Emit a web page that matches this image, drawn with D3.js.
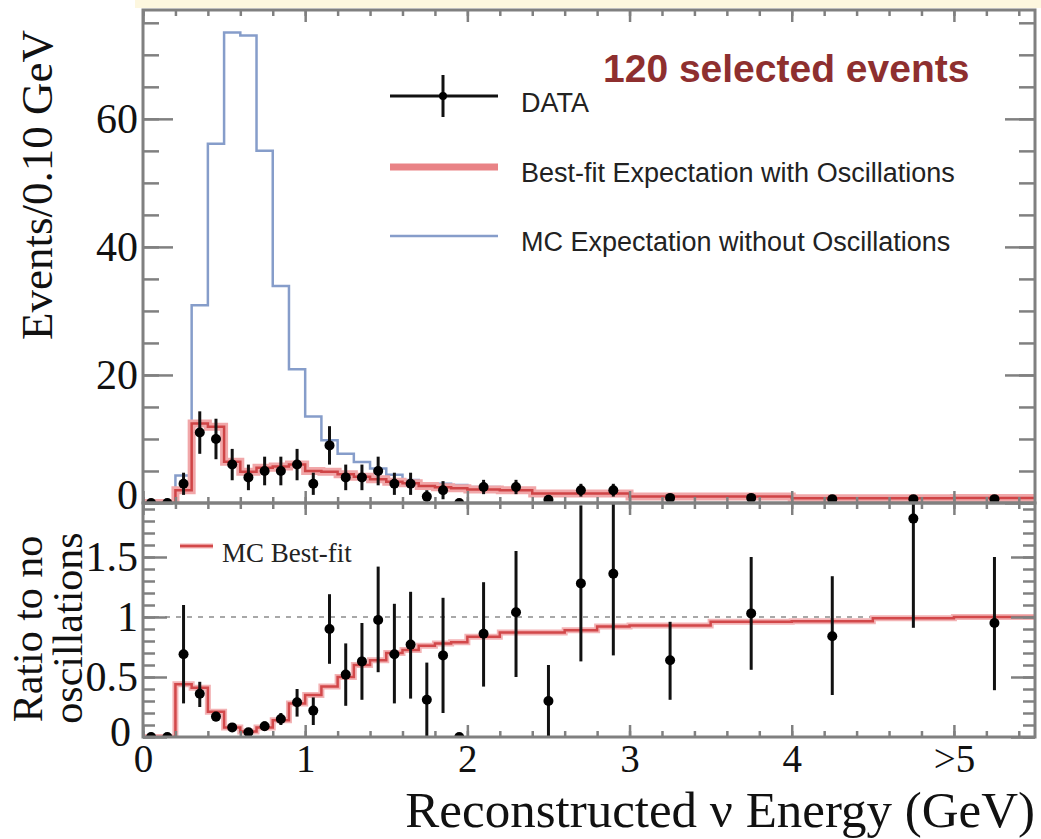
<!DOCTYPE html>
<html>
<head>
<meta charset="utf-8">
<script src="https://cdn.jsdelivr.net/npm/d3@7"></script>
<style>
  html, body { margin: 0; padding: 0; background: #ffffff; }
  svg { display: block; }
</style>
</head>
<body>
<svg id="chart" width="1041" height="839"></svg>
<script>
// ---- Data ----------------------------------------------------------------
// Bin edges in reconstructed neutrino energy (GeV); last bin is the >5 GeV overflow
const binEdges = [0.0, 0.1, 0.2, 0.3, 0.4, 0.5, 0.6, 0.7, 0.8, 0.9, 1.0,
                  1.1, 1.2, 1.3, 1.4, 1.5, 1.6, 1.7, 1.8, 1.9, 2.0,
                  2.2, 2.4, 2.6, 2.8, 3.0, 3.5, 4.0, 4.5, 5.0, 5.5];

// Observed events in each bin (120 in total)
const dataCounts = [0, 0, 3, 11, 10, 6, 4, 5, 5, 6,
                    3, 9, 4, 4, 5, 3, 3, 1, 2, 0,
                    5, 5, 1, 4, 4,
                    4, 4, 3, 3, 3];

// Best-fit expectation with oscillations (events / 0.10 GeV)
const bestFit = [0, 0, 2.0, 12.4, 11.9, 6.45, 4.9, 5.5, 5.7, 6.0,
                 5.0, 4.9, 4.5, 4.1, 3.7, 3.3, 3.1, 2.65, 2.45, 2.3,
                 2.1, 2.0, 1.5, 1.5, 1.5,
                 1.0, 1.0, 0.75, 0.75, 0.8];

// MC expectation without oscillations (events / 0.10 GeV)
const mcNoOsc = [0, 0, 4.3, 30.9, 56.1, 73.5, 73.0, 55.0, 33.9, 20.9,
                 13.5, 9.8, 7.7, 6.4, 5.4, 4.4, 3.6, 3.1, 3.0, 2.8,
                 2.5, 2.3, 1.7, 1.65, 1.6,
                 1.1, 1.05, 0.8, 0.78, 0.8];

// Ratio of best-fit to no-oscillation expectation
const ratioBestFit = [0, 0, 0.44, 0.41, 0.21, 0.08, 0.045, 0.08, 0.14, 0.28,
                      0.35, 0.42, 0.50, 0.60, 0.64, 0.70, 0.725, 0.76, 0.78, 0.79,
                      0.835, 0.87, 0.87, 0.89, 0.92,
                      0.93, 0.96, 0.965, 0.99, 1.0];

// Data / no-oscillation ratio with lower and upper error-bar ends
const ratioData = [0, 0, 0.69, 0.36, 0.17, 0.08, 0.04, 0.09, 0.15, 0.29,
                   0.22, 0.90, 0.52, 0.63, 0.975, 0.69, 0.77, 0.31, 0.68, 0,
                   0.86, 1.04, 0.30, 1.28, 1.36,
                   0.64, 1.03, 0.84, 1.82, 0.95];
const ratioLow  = [0, 0, 0.28, 0.25, 0.13, 0.05, 0.02, 0.05, 0.10, 0.17,
                   0.10, 0.61, 0.26, 0.31, 0.54, 0.28, 0.32, 0.0, 0.20, 0,
                   0.42, 0.50, 0.0, 0.63, 0.68,
                   0.31, 0.56, 0.35, 0.91, 0.39];
const ratioHigh = [0, 0, 1.10, 0.46, 0.21, 0.11, 0.06, 0.13, 0.20, 0.40,
                   0.33, 1.19, 0.78, 0.95, 1.42, 1.11, 1.21, 0.62, 1.16, 0,
                   1.29, 1.55, 0.60, 1.93, 2.05,
                   0.96, 1.50, 1.34, 2.60, 1.50];

const xTickValues = [0, 1, 2, 3, 4, 5];
const xTickLabels = ["0", "1", "2", "3", "4", ">5"];
const yTopTicks = [0, 20, 40, 60];
const yBotTicks = [0, 0.5, 1, 1.5];

// ---- Layout --------------------------------------------------------------
const L = 143, R = 1035;
const topY0 = 10, topY1 = 503, botY0 = 503, botY1 = 737;

const svg = d3.select("#chart");
const serif = "'Liberation Serif', 'Times New Roman', serif";
const sans = "'Liberation Sans', Arial, Helvetica, sans-serif";
const frameColor = "#808080";

const x = d3.scaleLinear().domain([0, 5.5]).range([L, R]);
const yTop = d3.scaleLinear().domain([0, 77]).range([topY1, topY0]);
const yBot = d3.scaleLinear().domain([0, 1.95]).range([botY1, botY0]);

// pale strip along the top edge
svg.append("rect").attr("x", 135).attr("y", 0).attr("width", 906).attr("height", 8)
  .attr("fill", "#fdf7df");

const defs = svg.append("defs");
defs.append("clipPath").attr("id", "clipTop").append("rect")
  .attr("x", L).attr("y", topY0).attr("width", R - L).attr("height", topY1 - topY0);
defs.append("clipPath").attr("id", "clipBot").append("rect")
  .attr("x", L).attr("y", botY0).attr("width", R - L).attr("height", botY1 - botY0);

const bins = binEdges.slice(0, -1).map((lo, i) => ({
  lo, hi: binEdges[i + 1], c: (lo + binEdges[i + 1]) / 2, w: binEdges[i + 1] - lo
}));

// step outline through bin edges
function stepPoints(values) {
  const pts = [];
  bins.forEach((b, i) => { pts.push([b.lo, values[i]]); pts.push([b.hi, values[i]]); });
  return pts;
}

// ---- Top panel -----------------------------------------------------------
const gTop = svg.append("g").attr("clip-path", "url(#clipTop)");
const lineTop = d3.line().x(d => x(d[0])).y(d => yTop(d[1]));

gTop.append("path").attr("d", lineTop(stepPoints(mcNoOsc)))
  .attr("fill", "none").attr("stroke", "#869dca").attr("stroke-width", 2.5);
gTop.append("path").attr("d", lineTop(stepPoints(bestFit)))
  .attr("fill", "none").attr("stroke", "#f1a7a9").attr("stroke-width", 8);
gTop.append("path").attr("d", lineTop(stepPoints(bestFit)))
  .attr("fill", "none").attr("stroke", "#cf4446").attr("stroke-width", 2.5);

const perTenth = dataCounts.map((n, i) => n / (bins[i].w / 0.1));
const errTenth = dataCounts.map((n, i) => Math.sqrt(n) / (bins[i].w / 0.1));

bins.forEach((b, i) => {
  if (dataCounts[i] > 0) {
    gTop.append("line")
      .attr("x1", x(b.c)).attr("x2", x(b.c))
      .attr("y1", yTop(perTenth[i] - errTenth[i])).attr("y2", yTop(perTenth[i] + errTenth[i]))
      .attr("stroke", "#111").attr("stroke-width", 3);
  }
  gTop.append("circle").attr("cx", x(b.c)).attr("cy", yTop(perTenth[i])).attr("r", 5)
    .attr("fill", "#000");
});

// ---- Bottom panel --------------------------------------------------------
const gBot = svg.append("g").attr("clip-path", "url(#clipBot)");
const lineBot = d3.line().x(d => x(d[0])).y(d => yBot(d[1]));

gBot.append("line").attr("x1", x(0)).attr("x2", x(5.5))
  .attr("y1", yBot(1)).attr("y2", yBot(1))
  .attr("stroke", "#a8a8a8").attr("stroke-width", 2).attr("stroke-dasharray", "5,6");

gBot.append("path").attr("d", lineBot(stepPoints(ratioBestFit)))
  .attr("fill", "none").attr("stroke", "#f3b3b5").attr("stroke-width", 6);
gBot.append("path").attr("d", lineBot(stepPoints(ratioBestFit)))
  .attr("fill", "none").attr("stroke", "#d2484a").attr("stroke-width", 2.5);

bins.forEach((b, i) => {
  if (ratioHigh[i] > ratioLow[i]) {
    gBot.append("line")
      .attr("x1", x(b.c)).attr("x2", x(b.c))
      .attr("y1", yBot(ratioLow[i])).attr("y2", yBot(ratioHigh[i]))
      .attr("stroke", "#111").attr("stroke-width", 3);
  }
  gBot.append("circle").attr("cx", x(b.c)).attr("cy", yBot(ratioData[i])).attr("r", 5)
    .attr("fill", "#000");
});

// ---- Frames and axes -----------------------------------------------------
function styleAxis(g) {
  g.select(".domain").remove();
  g.selectAll(".tick line").attr("stroke", frameColor).attr("stroke-width", 2.5);
  g.selectAll(".tick text").attr("fill", "#111").attr("font-family", serif);
  return g;
}

const xMinor = d3.range(0, 55.01, 2).map(v => v / 10);
const yTopMinor = d3.range(0, 77, 5);
const yBotMinor = d3.range(0, 20).map(v => v / 10);

// top panel: left
svg.append("g").attr("transform", `translate(${L},0)`)
  .call(d3.axisLeft(yTop).tickValues(yTopMinor).tickSize(-16).tickFormat(""))
  .call(styleAxis);
const topLeft = svg.append("g").attr("transform", `translate(${L},0)`)
  .call(d3.axisLeft(yTop).tickValues(yTopTicks).tickSize(-30).tickPadding(5).tickFormat(d => d))
  .call(styleAxis);
topLeft.selectAll(".tick text").attr("font-size", 42)
  .filter(d => d === 0).attr("dy", "0.12em");
// top panel: right
svg.append("g").attr("transform", `translate(${R},0)`)
  .call(d3.axisRight(yTop).tickValues(yTopMinor).tickSize(-16).tickFormat("")).call(styleAxis);
svg.append("g").attr("transform", `translate(${R},0)`)
  .call(d3.axisRight(yTop).tickValues(yTopTicks).tickSize(-30).tickFormat("")).call(styleAxis);
// top panel: top and bottom edges
svg.append("g").attr("transform", `translate(0,${topY0})`)
  .call(d3.axisTop(x).tickValues(xMinor).tickSize(-6).tickFormat("")).call(styleAxis);
svg.append("g").attr("transform", `translate(0,${topY0})`)
  .call(d3.axisTop(x).tickValues(xTickValues).tickSize(-12).tickFormat("")).call(styleAxis);
svg.append("g").attr("transform", `translate(0,${topY1})`)
  .call(d3.axisBottom(x).tickValues(xMinor).tickSize(-6).tickFormat("")).call(styleAxis);
svg.append("g").attr("transform", `translate(0,${topY1})`)
  .call(d3.axisBottom(x).tickValues(xTickValues).tickSize(-12).tickFormat("")).call(styleAxis);

// bottom panel: left
svg.append("g").attr("transform", `translate(${L},0)`)
  .call(d3.axisLeft(yBot).tickValues(yBotMinor).tickSize(-12).tickFormat("")).call(styleAxis);
const botLeft = svg.append("g").attr("transform", `translate(${L},0)`)
  .call(d3.axisLeft(yBot).tickValues(yBotTicks).tickSize(-24).tickPadding(5).tickFormat(d => String(d)))
  .call(styleAxis);
botLeft.selectAll(".tick text").attr("font-size", 42);
// keep the ratio "0" clear of the energy "0" below it
botLeft.selectAll(".tick text").filter(d => d === 0).attr("x", -12).attr("dy", "0.2em");
// bottom panel: right
svg.append("g").attr("transform", `translate(${R},0)`)
  .call(d3.axisRight(yBot).tickValues(yBotMinor).tickSize(-12).tickFormat("")).call(styleAxis);
svg.append("g").attr("transform", `translate(${R},0)`)
  .call(d3.axisRight(yBot).tickValues(yBotTicks).tickSize(-24).tickFormat("")).call(styleAxis);
// bottom panel: top and bottom edges
svg.append("g").attr("transform", `translate(0,${botY0})`)
  .call(d3.axisTop(x).tickValues(xMinor).tickSize(-6).tickFormat("")).call(styleAxis);
svg.append("g").attr("transform", `translate(0,${botY0})`)
  .call(d3.axisTop(x).tickValues(xTickValues).tickSize(-12).tickFormat("")).call(styleAxis);
svg.append("g").attr("transform", `translate(0,${botY1})`)
  .call(d3.axisBottom(x).tickValues(xMinor).tickSize(-6).tickFormat("")).call(styleAxis);
const botBottom = svg.append("g").attr("transform", `translate(0,${botY1})`)
  .call(d3.axisBottom(x).tickValues(xTickValues).tickSize(-12).tickPadding(7)
    .tickFormat((d, i) => xTickLabels[i]))
  .call(styleAxis);
botBottom.selectAll(".tick text").attr("font-size", 39);

// frames
[[topY0, topY1], [botY0, botY1]].forEach(([a, b]) => {
  svg.append("rect").attr("x", L).attr("y", a).attr("width", R - L).attr("height", b - a)
    .attr("fill", "none").attr("stroke", frameColor).attr("stroke-width", 3);
});

// ---- Axis titles ---------------------------------------------------------
svg.append("text").attr("transform", "translate(52,30) rotate(-90)")
  .attr("text-anchor", "end").attr("font-family", serif).attr("font-size", 45)
  .attr("fill", "#111").text("Events/0.10 GeV");
svg.append("text").attr("transform", "translate(42,629) rotate(-90)")
  .attr("text-anchor", "middle").attr("font-family", serif).attr("font-size", 42)
  .attr("fill", "#111").text("Ratio to no");
svg.append("text").attr("transform", "translate(82,628) rotate(-90)")
  .attr("text-anchor", "middle").attr("font-family", serif).attr("font-size", 42)
  .attr("fill", "#111").text("oscillations");
svg.append("text").attr("x", R).attr("y", 827)
  .attr("text-anchor", "end").attr("font-family", serif).attr("font-size", 51)
  .attr("fill", "#111").text("Reconstructed \u03bd Energy (GeV)");

// ---- Legends -------------------------------------------------------------
svg.append("text").attr("x", 603).attr("y", 82)
  .attr("font-family", sans).attr("font-weight", "bold").attr("font-size", 39)
  .attr("fill", "#8e2f2f").text("120 selected events");

const leg = svg.append("g");
// DATA entry
leg.append("line").attr("x1", 390).attr("x2", 498).attr("y1", 96).attr("y2", 96)
  .attr("stroke", "#111").attr("stroke-width", 3);
leg.append("line").attr("x1", 443).attr("x2", 443).attr("y1", 75).attr("y2", 117)
  .attr("stroke", "#111").attr("stroke-width", 3);
leg.append("circle").attr("cx", 443).attr("cy", 96).attr("r", 4).attr("fill", "#000");
leg.append("text").attr("x", 521).attr("y", 112).attr("font-family", sans)
  .attr("font-size", 27).attr("fill", "#222").text("DATA");
// best-fit entry
leg.append("line").attr("x1", 390).attr("x2", 498).attr("y1", 167).attr("y2", 167)
  .attr("stroke", "#e98386").attr("stroke-width", 7);
leg.append("text").attr("x", 521).attr("y", 182).attr("font-family", sans)
  .attr("font-size", 27).attr("fill", "#222").text("Best-fit Expectation with Oscillations");
// no-oscillation entry
leg.append("line").attr("x1", 390).attr("x2", 498).attr("y1", 236).attr("y2", 236)
  .attr("stroke", "#869dca").attr("stroke-width", 2.5);
leg.append("text").attr("x", 521).attr("y", 251).attr("font-family", sans)
  .attr("font-size", 27).attr("fill", "#222").text("MC Expectation without Oscillations");

// ratio-panel legend
svg.append("line").attr("x1", 180).attr("x2", 213).attr("y1", 546).attr("y2", 546)
  .attr("stroke", "#f3b3b5").attr("stroke-width", 5);
svg.append("line").attr("x1", 180).attr("x2", 213).attr("y1", 546).attr("y2", 546)
  .attr("stroke", "#d2484a").attr("stroke-width", 2.5);
svg.append("text").attr("x", 222).attr("y", 562).attr("font-family", serif)
  .attr("font-size", 27).attr("fill", "#222").text("MC Best-fit");
</script>
</body>
</html>
